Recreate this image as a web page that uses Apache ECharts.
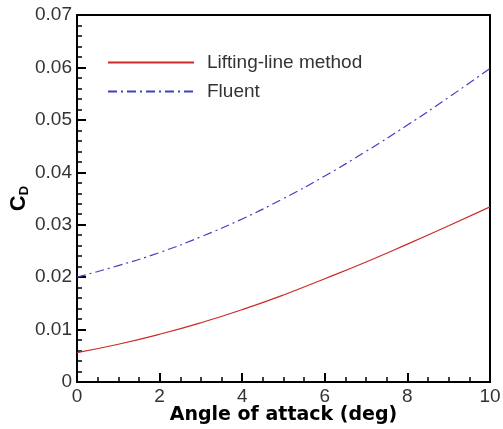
<!DOCTYPE html>
<html>
<head>
<meta charset="utf-8">
<script src="https://cdn.jsdelivr.net/npm/echarts@6/dist/echarts.min.js"></script>
<style>
  html, body { margin: 0; padding: 0; background: #fff; }
  #chart { width: 503px; height: 429px; }
</style>
</head>
<body>
<div id="chart"></div>
<script>
// angle of attack (deg)
const alpha = [0, 1, 2, 3, 4, 5, 6, 7, 8, 9, 10];
// drag coefficient
const liftingLine = [0.0056, 0.0072, 0.0091, 0.0113, 0.0138, 0.0166, 0.0197, 0.0229, 0.0263, 0.0298, 0.0334];
const fluent = [0.0200, 0.0222, 0.0247, 0.0277, 0.0311, 0.0350, 0.0393, 0.0440, 0.0490, 0.0543, 0.0598];

const chart = echarts.init(document.getElementById("chart"));
const font = "Liberation Sans, Arial, sans-serif";

chart.setOption({
  animation: false,
  textStyle: { fontFamily: font },
  grid: {
    left: 77,
    right: 13,
    top: 15,
    bottom: 47,
    outerBoundsMode: "none",
    show: true,
    borderColor: "#000",
    borderWidth: 2
  },
  legend: {
    orient: "vertical",
    left: 107,
    top: 53,
    padding: 0,
    itemWidth: 86,
    itemHeight: 18,
    itemGap: 10,
    itemStyle: { opacity: 0 },
    textStyle: { fontSize: 19, color: "#333", fontFamily: font, padding: [0, 0, 0, 8] },
    data: ["Lifting-line method", "Fluent"]
  },
  xAxis: {
    type: "value",
    min: 0,
    max: 10,
    interval: 2,
    name: "Angle of attack (deg)",
    nameLocation: "middle",
    nameGap: 24,
    nameMoveOverlap: false,
    nameTextStyle: { fontSize: 19, fontWeight: "bold", color: "#000", fontFamily: "DejaVu Sans, sans-serif" },
    axisLine: { lineStyle: { color: "#000", width: 2 } },
    axisTick: { inside: true, length: 9, lineStyle: { color: "#000", width: 2 } },
    minorTick: { show: true, splitNumber: 4, length: 5, lineStyle: { color: "#000", width: 1.5 } },
    axisLabel: { fontSize: 19, color: "#333", margin: 5 },
    splitLine: { show: false }
  },
  yAxis: {
    type: "value",
    min: 0,
    max: 0.07,
    interval: 0.01,
    name: "{c|C}{d|D}",
    nameLocation: "middle",
    nameGap: 46,
    nameMoveOverlap: false,
    nameRotate: 90,
    nameTextStyle: {
      rich: {
        c: { fontSize: 22, fontWeight: "bold", color: "#000", fontFamily: font },
        d: { fontSize: 13, fontWeight: "bold", color: "#000", fontFamily: font, verticalAlign: "bottom", padding: [11, 0, 0, 0] }
      }
    },
    axisLine: { lineStyle: { color: "#000", width: 2 } },
    axisTick: { inside: true, length: 9, lineStyle: { color: "#000", width: 2 } },
    minorTick: { show: true, splitNumber: 5, length: 5, lineStyle: { color: "#000", width: 1.5 } },
    axisLabel: { fontSize: 19, color: "#333", margin: 5 },
    splitLine: { show: false }
  },
  series: [
    {
      name: "Lifting-line method",
      type: "line",
      smooth: true,
      symbol: "none",
      data: alpha.map((a, i) => [a, liftingLine[i]]),
      lineStyle: { color: "#cc2a2a", width: 1.2 },
      itemStyle: { color: "#cc2a2a" }
    },
    {
      name: "Fluent",
      type: "line",
      smooth: true,
      symbol: "none",
      data: alpha.map((a, i) => [a, fluent[i]]),
      lineStyle: { color: "#4040c0", width: 1.2, type: [9, 4, 2, 4] },
      itemStyle: { color: "#4040c0" }
    }
  ]
});
</script>
</body>
</html>
